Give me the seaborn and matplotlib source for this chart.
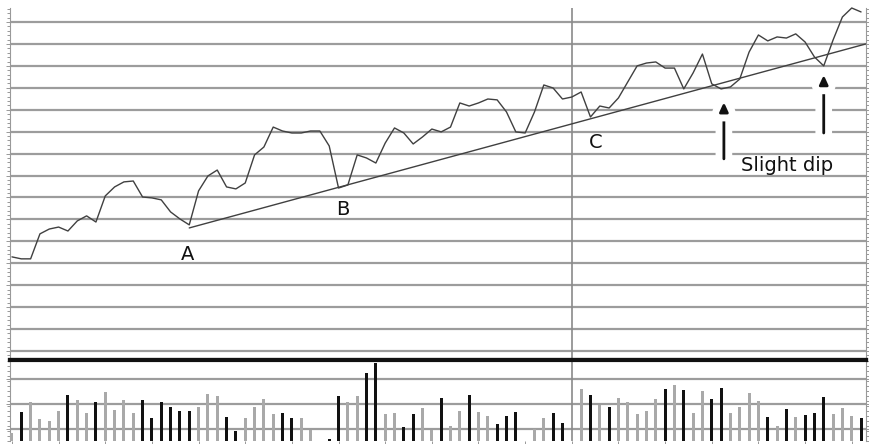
import numpy as np
import pandas as pd
import matplotlib
matplotlib.use("Agg")
import matplotlib.pyplot as plt
import matplotlib.patheffects as pe
from matplotlib.ticker import MultipleLocator
import seaborn as sns

# daily closes, one value per trading day
price = [24.29, 24.20, 24.20, 25.34, 25.56, 25.65, 25.47, 25.93, 26.16, 25.88,
         27.07, 27.48, 27.71, 27.75, 27.02, 26.98, 26.89, 26.34, 26.02, 25.75,
         27.30, 27.98, 28.25, 27.48, 27.39, 27.66, 28.94, 29.30, 30.21, 30.03,
         29.94, 29.94, 30.03, 30.03, 29.35, 27.43, 27.57, 28.94, 28.80, 28.57,
         29.48, 30.17, 29.94, 29.44, 29.76, 30.12, 29.99, 30.21, 31.31, 31.17,
         31.31, 31.49, 31.45, 30.90, 29.99, 29.94, 30.90, 32.13, 31.99, 31.49,
         31.58, 31.81, 30.67, 31.17, 31.08, 31.54, 32.27, 33.00, 33.13, 33.18,
         32.90, 32.90, 31.95, 32.68, 33.54, 32.18, 31.95, 32.04, 32.40, 33.63,
         34.41, 34.14, 34.32, 34.27, 34.46, 34.09, 33.41, 33.00, 34.18, 35.23,
         35.64, 35.46]

# daily volume (millions)
volume = [0.33, 1.17, 1.57, 0.88, 0.81, 1.21, 1.84, 1.64, 1.13, 1.55,
          1.95, 1.24, 1.63, 1.13, 1.64, 0.91, 1.57, 1.37, 1.21, 1.21,
          1.35, 1.88, 1.80, 0.97, 0.41, 0.91, 1.37, 1.67, 1.07, 1.11,
          0.93, 0.91, 0.44, 0.00, 0.07, 1.80, 1.57, 1.80, 2.71, 3.11,
          1.07, 1.13, 0.55, 1.08, 1.31, 0.44, 1.71, 0.60, 1.21, 1.84,
          1.17, 1.01, 0.67, 1.01, 1.17, 0.00, 0.47, 0.91, 1.13, 0.73,
          0.00, 2.07, 1.84, 1.44, 1.35, 1.71, 1.57, 1.08, 1.21, 1.67,
          2.08, 2.24, 2.04, 1.13, 2.01, 1.67, 2.13, 1.13, 1.37, 1.93,
          1.61, 0.95, 0.60, 1.27, 0.95, 1.04, 1.13, 1.77, 1.08, 1.31,
          1.00, 0.91]

# trendline anchors (day, price)
trend_day = [19, 91.5]
trend_price = [25.61, 34.0]

days = np.arange(len(price))
direction = ["up"] + ["down" if d < 0 else "up" for d in np.diff(price)]
df = pd.DataFrame({"day": days, "price": price, "volume": volume, "dir": direction})

sns.set_style("white")
plt.rcParams["font.family"] = ["DejaVu Sans"]

W, H = 869, 444
fig = plt.figure(figsize=(W / 100, H / 100), dpi=100)
ax = fig.add_axes([10 / W, (H - 359.5) / H, 856 / W, 351.5 / H])
axv = fig.add_axes([10 / W, 3 / H, 856 / W, 81 / H])

grid_c = "#9c9c9c"
line_c = "#404040"

# price panel
sns.lineplot(data=df, x="day", y="price", ax=ax, color=line_c, lw=1.0, clip_on=False)
sns.lineplot(x=trend_day, y=trend_price, ax=ax, color=line_c, lw=1.0)
ax.axvline(60, color="#8a8a8a", lw=1.2, zorder=1)

ax.set_xlim(-0.21, 91.53)
ax.set_ylim(19.61, 35.64)
ax.set_yticks(np.arange(20, 36))
ax.yaxis.set_minor_locator(MultipleLocator(0.2))
ax.grid(axis="y", color=grid_c, lw=1.6, zorder=0)
ax.grid(axis="x", visible=False)
ax.set_xticks([])
ax.tick_params(which="both", left=True, right=True, labelleft=False, color="#888888",
               width=0.6, direction="out")
ax.tick_params(which="major", length=3)
ax.tick_params(which="minor", length=2)
ax.set_xlabel("")
ax.set_ylabel("")
ax.spines["top"].set_visible(False)
for s in ["left", "right"]:
    ax.spines[s].set_color("#999999")
    ax.spines[s].set_linewidth(0.8)
ax.spines["bottom"].set_color("#111111")
ax.spines["bottom"].set_linewidth(3)

ax.text(18.8, 24.38, "A", fontsize=14, ha="center", va="center", color="#111111")
ax.text(35.5, 26.46, "B", fontsize=14, ha="center", va="center", color="#111111")
ax.text(62.6, 29.50, "C", fontsize=14, ha="center", va="center", color="#111111")
ax.text(83.1, 28.48, "Slight dip", fontsize=14, ha="center", va="center", color="#111111")

for xd, y0, y1 in [(76.3, 28.76, 31.35), (87.0, 29.94, 32.59)]:
    an = ax.annotate("", xy=(xd, y1), xytext=(xd, y0),
                     arrowprops=dict(arrowstyle="-|>,head_length=0.55,head_width=0.25",
                                     color="#111111", lw=2, shrinkA=0, shrinkB=0))
    an.arrow_patch.set_path_effects([pe.Stroke(linewidth=12, foreground="white"), pe.Normal()])

# volume panel
sns.barplot(data=df, x="day", y="volume", hue="dir",
            palette={"up": "#a9a9a9", "down": "#111111"},
            native_scale=True, width=0.32, dodge=False, errorbar=None,
            legend=False, ax=axv, zorder=3, linewidth=0)
axv.axvline(60, color="#8a8a8a", lw=1.2, zorder=1)
axv.set_xlim(-0.21, 91.53)
axv.set_ylim(0, 3.24)
axv.set_yticks([0.5, 1.5, 2.5])
axv.yaxis.set_minor_locator(MultipleLocator(0.2))
axv.grid(axis="y", color=grid_c, lw=1.6, zorder=0)
axv.grid(axis="x", visible=False)
axv.set_xticks(np.arange(0, 92, 5))
axv.tick_params(which="both", left=True, right=True, bottom=True, labelleft=False,
                labelbottom=False, color="#888888", width=0.6, direction="out")
axv.tick_params(which="major", length=3)
axv.tick_params(which="minor", length=2)
axv.set_xlabel("")
axv.set_ylabel("")
axv.spines["bottom"].set_visible(False)
axv.spines["top"].set_color("#111111")
axv.spines["top"].set_linewidth(3)
for s in ["left", "right"]:
    axv.spines[s].set_color("#999999")
    axv.spines[s].set_linewidth(0.8)

fig.savefig("out.png", dpi=100)
